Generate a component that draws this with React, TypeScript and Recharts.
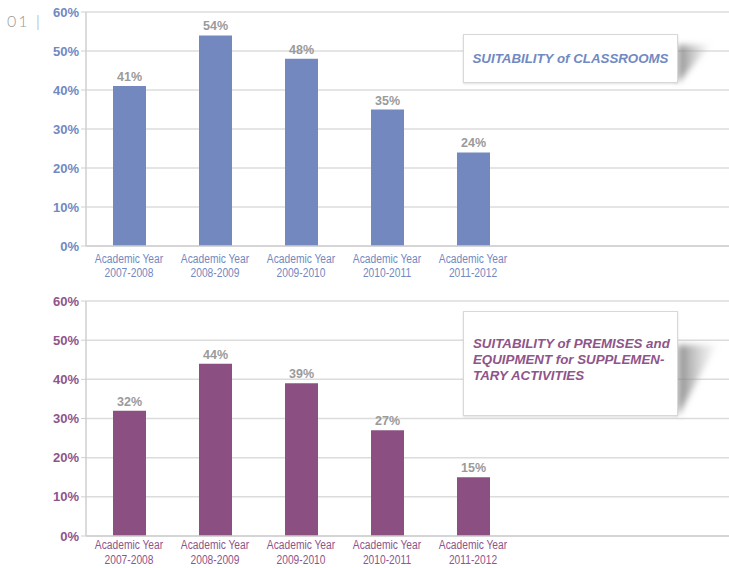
import React from "react";
import { BarChart, Bar, XAxis, YAxis, CartesianGrid, LabelList } from "recharts";

const yearLabels = ["2007-2008", "2008-2009", "2009-2010", "2010-2011", "2011-2012"];
const classroomValues = [41, 54, 48, 35, 24];
const premisesValues = [32, 44, 39, 27, 15];
const yTicks = [0, 10, 20, 30, 40, 50, 60];
const topTitle = "SUITABILITY of CLASSROOMS";
const bottomTitleLines = ["SUITABILITY of PREMISES and", "EQUIPMENT for SUPPLEMEN-", "TARY ACTIVITIES"];

const BLUE = "#7388BE";
const BLUE_TEXT = "#7189C2";
const PURPLE = "#8B4F82";
const PURPLE_TEXT = "#8E558B";
const SANS = "'Liberation Sans', Arial, Helvetica, sans-serif";

const topData = yearLabels.map((y, i) => ({ year: y, value: classroomValues[i] }));
const bottomData = yearLabels.map((y, i) => ({ year: y, value: premisesValues[i] }));

const makeTick = (color: string, dy1: number, dy2: number) => (props: any) => {
  const { x, y, payload } = props;
  return (
    <g transform={`translate(${x},${y}) scale(0.82,1)`}>
      <text textAnchor="middle" fill={color} fontFamily={SANS} fontSize={12.5}>
        <tspan x={0} dy={dy1}>Academic Year</tspan>
        <tspan x={0} dy={dy2}>{payload.value}</tspan>
      </text>
    </g>
  );
};

function Panel({ data, color, textColor, height, top, xHeight, dy1, dy2 }: any) {
  return (
    <BarChart
      width={742}
      height={height}
      data={data}
      margin={{ top, right: 0, left: 0, bottom: 0 }}
    >
      <CartesianGrid vertical={false} stroke="#dcdcdc" strokeWidth={1.5} />
      <XAxis
        dataKey="year"
        height={xHeight}
        padding={{ left: 0, right: 226 }}
        axisLine={{ stroke: "#cfcfcf", strokeWidth: 1.5 }}
        tickLine={false}
        interval={0}
        tick={makeTick(textColor, dy1, dy2)}
      />
      <YAxis
        width={86}
        domain={[0, 60]}
        ticks={yTicks}
        tickFormatter={(v: number) => `${v}%`}
        axisLine={{ stroke: "#cfcfcf", strokeWidth: 1.5 }}
        tickLine={{ stroke: "#cfcfcf" }}
        tickSize={5}
        tick={{ fill: textColor, fontFamily: SANS, fontSize: 13, fontWeight: 700 }}
      />
      <Bar dataKey="value" fill={color} barSize={33} isAnimationActive={false}>
        <LabelList
          dataKey="value"
          position="top"
          offset={5}
          formatter={(v: any) => `${v}%`}
          fill="#9a9a9a"
          fontFamily={SANS}
          fontSize={12.5}
          fontWeight={700}
        />
      </Bar>
    </BarChart>
  );
}

function NoteBox({ left, top, width, height, color, lines, center, shadow }: any) {
  return (
    <>
      <svg
        width={80}
        height={height + 20}
        style={{ position: "absolute", left: left + width - 20, top: top, overflow: "visible" }}
      >
        <defs>
          <linearGradient id={`g${top}`} x1="0" y1="0" x2="1" y2="0">
            <stop offset="0" stopColor="#777" stopOpacity={0.85} />
            <stop offset="1" stopColor="#c4c4c4" stopOpacity={0.15} />
          </linearGradient>
          <filter id={`f${top}`} x="-50%" y="-50%" width="200%" height="200%">
            <feGaussianBlur stdDeviation="3" />
          </filter>
        </defs>
        <polygon
          points={`20,${shadow.y0} ${20 + shadow.w},${shadow.y0} 20,${height}`}
          fill={`url(#g${top})`}
          filter={`url(#f${top})`}
        />
      </svg>
      <div
        style={{
          position: "absolute",
          left,
          top,
          width,
          height,
          boxSizing: "border-box",
          background: "#fff",
          border: "1px solid #d8d8d8",
          boxShadow: "0 1px 2px rgba(0,0,0,0.12)",
          display: "flex",
          flexDirection: "column",
          justifyContent: center ? "center" : "flex-start",
          alignItems: center ? "center" : "flex-start",
          paddingLeft: center ? 0 : 9,
          paddingTop: center ? 0 : 24,
          color,
          fontFamily: SANS,
          fontStyle: "italic",
          fontWeight: 700,
          fontSize: 13.3,
          lineHeight: "16px",
          whiteSpace: "nowrap",
        }}
      >
        {lines.map((l: string, i: number) => (
          <div key={i}>{l}</div>
        ))}
      </div>
    </>
  );
}

export default function App() {
  return (
    <div
      style={{
        position: "absolute",
        left: 0,
        top: 0,
        width: 729,
        height: 568,
        background: "#fff",
        overflow: "hidden",
      }}
    >
      <div style={{ position: "absolute", left: 0, top: 0 }}>
        <Panel data={topData} color={BLUE} textColor={BLUE_TEXT} height={290} top={12} xHeight={44} dy1={9} dy2={14} />
      </div>
      <div style={{ position: "absolute", left: 0, top: 290 }}>
        <Panel data={bottomData} color={PURPLE} textColor={PURPLE_TEXT} height={278} top={11} xHeight={32} dy1={5} dy2={15} />
      </div>
      <div
        style={{
          position: "absolute",
          left: 7,
          top: 11,
          fontFamily: "Lato, 'Open Sans', sans-serif",
          fontWeight: 300,
          fontSize: 16,
          color: "#9a9a9a",
          letterSpacing: 2,
        }}
      >
        01 |
      </div>
      <NoteBox
        left={463}
        top={34}
        width={215}
        height={49}
        color={BLUE_TEXT}
        lines={[topTitle]}
        center
        shadow={{ y0: 11, w: 32 }}
      />
      <NoteBox
        left={463}
        top={311}
        width={215}
        height={105}
        color={PURPLE_TEXT}
        lines={bottomTitleLines}
        center={false}
        shadow={{ y0: 34, w: 38 }}
      />
    </div>
  );
}
